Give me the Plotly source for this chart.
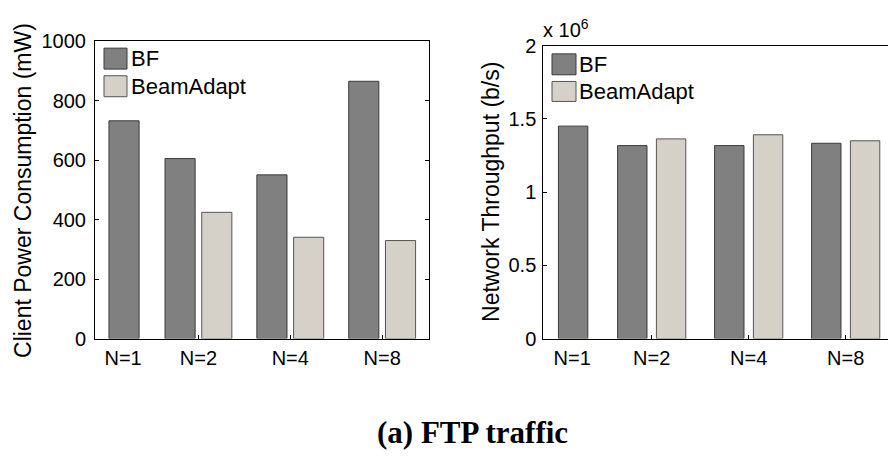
import plotly.graph_objects as go

# ---------------- data ----------------
categories = ["N=1", "N=2", "N=4", "N=8"]
group_pos = [1.39, 2, 3, 4]          # x position of each group
label_pos = [1.18, 2, 3, 4]          # x position of each category label
series = ["BF", "BeamAdapt"]
power_bf = [733, 606, 551, 866]              # mW
power_ba = [None, 425, 341, 330]             # mW
thr_bf = [1.451e6, 1.318e6, 1.318e6, 1.334e6]  # b/s
thr_ba = [None, 1.364e6, 1.392e6, 1.351e6]     # b/s
power_ticks = [0, 200, 400, 600, 800, 1000]
thr_ticks = [0, 0.5e6, 1.0e6, 1.5e6, 2.0e6]
thr_ticktext = ["0", "0.5", "1", "1.5", "2"]

# ---------------- style ----------------
W, H = 888, 461
FONT = "Liberation Sans, Arial, sans-serif"
FS_TICK = 20
FS_LABEL = 23
FS_LEG = 22
colors = {"BF": "#808080", "BeamAdapt": "#d5d1c9"}
edges = {"BF": "#3a3a3a", "BeamAdapt": "#555555"}

def px(x):
    return x / W

def py(y):
    return 1 - y / H

fig = go.Figure()

panels = [
    dict(xa="x", ya="y", vals=[power_bf, power_ba], width=0.328),
    dict(xa="x2", ya="y2", vals=[thr_bf, thr_ba], width=0.303),
]
for p in panels:
    for i, name in enumerate(series):
        w = p["width"]
        center = -0.2 if i == 0 else 0.2
        fig.add_trace(go.Bar(
            x=group_pos, y=p["vals"][i], name=name,
            width=w, offset=center - w / 2,
            marker=dict(color=colors[name], line=dict(color=edges[name], width=1)),
            xaxis=p["xa"], yaxis=p["ya"], showlegend=False,
        ))

axis_common = dict(showline=True, linecolor="black", linewidth=1, showgrid=False,
                   zeroline=False, tickfont=dict(family=FONT, size=FS_TICK, color="black"))

fig.update_layout(
    width=W, height=H,
    margin=dict(l=0, r=0, t=0, b=0),
    paper_bgcolor="white", plot_bgcolor="white",
    barmode="overlay",
    xaxis=dict(domain=[px(95), px(429)], range=[0.874, 4.51], anchor="y",
               tickvals=label_pos, ticktext=categories, ticks="", mirror=True,
               ticklabelstandoff=1,
               minor=dict(tickvals=[2, 3, 4], ticks="inside", ticklen=4, tickcolor="black"),
               **axis_common),
    yaxis=dict(domain=[py(344), py(32)], range=[0, 1000], anchor="x",
               tickvals=power_ticks, ticks="inside", ticklen=4, tickcolor="black",
               ticklabelstandoff=4,
               mirror="ticks", **axis_common),
    xaxis2=dict(domain=[px(543.3), 1.0], range=[0.8825, 0.8825 + 344.7 / 97], anchor="y2",
                tickvals=label_pos, ticktext=categories, ticks="", mirror=True,
                ticklabelstandoff=1,
                minor=dict(tickvals=[2, 3, 4], ticks="inside", ticklen=4, tickcolor="black"),
                **axis_common),
    yaxis2=dict(domain=[py(344), py(36.5)], range=[0, 2e6], anchor="x2",
                tickvals=thr_ticks, ticktext=thr_ticktext, ticks="inside", ticklen=4,
                tickcolor="black", mirror=False, ticklabelstandoff=2, **axis_common),
)

# manual legends (large swatches as in the original)
legend_boxes = [
    dict(x0=104, x1=127, ys=[(39, 61), (68, 90)], tx=129),
    dict(x0=552, x1=576, ys=[(45, 67), (74, 95)], tx=577),
]
for lb in legend_boxes:
    for name, (y0, y1) in zip(series, lb["ys"]):
        fig.add_shape(type="rect", xref="paper", yref="paper",
                      x0=px(lb["x0"]), x1=px(lb["x1"]), y0=py(y1), y1=py(y0),
                      fillcolor=colors[name], line=dict(color=edges[name], width=1))
        fig.add_annotation(xref="paper", yref="paper", x=px(lb["tx"]), y=py((y0 + y1) / 2),
                           text=name, showarrow=False, xanchor="left", yanchor="middle",
                           font=dict(family=FONT, size=FS_LEG, color="black"))

# axis titles
fig.add_annotation(xref="paper", yref="paper", x=px(23), y=py(189),
                   text="Client Power Consumption (mW)", textangle=-90, showarrow=False,
                   xanchor="center", yanchor="middle",
                   font=dict(family=FONT, size=FS_LABEL, color="black"))
fig.add_annotation(xref="paper", yref="paper", x=px(491), y=py(190),
                   text="Network Throughput (b/s)", textangle=-90, showarrow=False,
                   xanchor="center", yanchor="middle",
                   font=dict(family=FONT, size=FS_LABEL, color="black"))
# exponent label
fig.add_annotation(xref="paper", yref="paper", x=px(541), y=py(34),
                   text="x 10<sup>6</sup>", showarrow=False,
                   xanchor="left", yanchor="bottom",
                   font=dict(family=FONT, size=FS_TICK, color="black"))
# caption
fig.add_annotation(xref="paper", yref="paper", x=px(472), y=py(443),
                   text="<b>(a) FTP traffic</b>", showarrow=False,
                   xanchor="center", yanchor="middle",
                   font=dict(family="Liberation Serif, Times New Roman, serif", size=31, color="black"))

fig.write_html("out.html",
               config={"displayModeBar": False},
               post_script="document.body.style.margin='0';document.body.style.overflow='hidden';")
